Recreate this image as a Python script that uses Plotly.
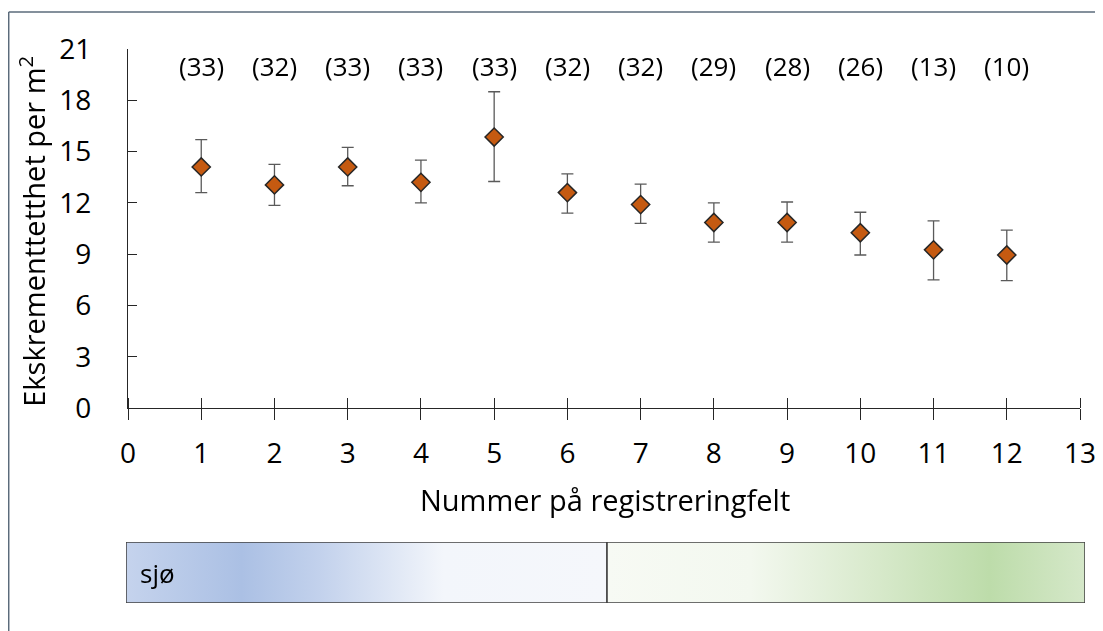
import plotly.graph_objects as go

# feltnummer, gjennomsnitt, feilgrenser og antall (n)
felt = [1, 2, 3, 4, 5, 6, 7, 8, 9, 10, 11, 12]
tetthet = [14.1, 13.05, 14.1, 13.2, 15.85, 12.6, 11.9, 10.85, 10.85, 10.25, 9.25, 8.95]
feil_opp = [1.6, 1.2, 1.15, 1.3, 2.65, 1.1, 1.2, 1.15, 1.2, 1.2, 1.7, 1.45]
feil_ned = [1.5, 1.2, 1.1, 1.2, 2.6, 1.2, 1.1, 1.15, 1.15, 1.3, 1.75, 1.5]
antall = [33, 32, 33, 33, 33, 32, 32, 29, 28, 26, 13, 10]

y_ticks = [0, 3, 6, 9, 12, 15, 18, 21]
x_ticks = list(range(0, 14))

FONT = "Open Sans"
AXIS = "#262626"
MARKER = "#c55a11"
ERR = "#5a5a5a"
FRAME = "#5b6b7b"

BLUE_SCALE = [[0.0, "#c5d3ed"], [0.24, "#abc0e4"], [0.40, "#c2d1ec"],
              [0.66, "#f3f6fb"], [1.0, "#f5f7fb"]]
GREEN_SCALE = [[0.0, "#f7faf4"], [0.30, "#f3f8ef"], [0.55, "#d9eacd"],
               [0.80, "#bddcaa"], [1.0, "#d5e8c9"]]
SPLIT = 0.5016
X_AXIS_POS = 0.352

fig = go.Figure()

fig.add_trace(go.Scatter(
    x=felt, y=tetthet, mode="markers",
    marker=dict(symbol="diamond", size=14, color=MARKER,
                line=dict(color=AXIS, width=1.5)),
    error_y=dict(type="data", symmetric=False, array=feil_opp, arrayminus=feil_ned,
                 color=ERR, thickness=1.3, width=6),
    xaxis="x", yaxis="y", showlegend=False, hoverinfo="skip",
))

# usynlig spor som gir x3 (tick-merker oppover fra x-aksen)
fig.add_trace(go.Scatter(x=felt, y=tetthet, mode="markers", opacity=0,
                         xaxis="x3", yaxis="y", showlegend=False, hoverinfo="skip"))

# fargestripe sjø -> land
for x0, x1, scale in [(0, SPLIT, BLUE_SCALE), (SPLIT, 1, GREEN_SCALE)]:
    fig.add_trace(go.Scatter(
        x=[x0, x1, x1, x0, x0], y=[0, 0, 1, 1, 0],
        mode="lines", fill="toself",
        fillgradient=dict(type="horizontal", colorscale=scale, start=x0, stop=x1),
        line=dict(color="#404040", width=1.5),
        xaxis="x2", yaxis="y2", showlegend=False, hoverinfo="skip",
    ))

# n over hvert punkt
for x, n in zip(felt, antall):
    fig.add_annotation(x=x, y=20, xref="x", yref="y", text=f"({n})",
                       showarrow=False, font=dict(size=26, color="#000000", family=FONT))

fig.add_annotation(x=0.012, y=0.5, xref="x2", yref="y2", text="sjø", xanchor="left",
                   yanchor="middle", showarrow=False,
                   font=dict(size=26, color="#000000", family=FONT))

fig.add_annotation(x=0.4995, y=0.186, xref="paper", yref="paper",
                   xanchor="center", yanchor="middle",
                   text="Nummer på registreringfelt", showarrow=False,
                   font=dict(size=29, color="#000000", family=FONT))
fig.add_annotation(x=-0.0975, y=0.671, xref="paper", yref="paper", textangle=-90,
                   xanchor="center", yanchor="middle",
                   text="Ekskrementtetthet per m<sup>2</sup>", showarrow=False,
                   font=dict(size=29, color="#000000", family=FONT))

# ramme (topp og venstre)
fig.add_shape(type="line", xref="paper", yref="paper", x0=-0.1223, x1=1.05,
              y0=1.0668, y1=1.0668, line=dict(color=FRAME, width=1.5))
fig.add_shape(type="line", xref="paper", yref="paper", x0=-0.1223, x1=-0.1223,
              y0=1.0668, y1=-0.1, line=dict(color=FRAME, width=1.5))

axis_common = dict(showgrid=False, zeroline=False, linecolor=AXIS, linewidth=1.3,
                   tickcolor=AXIS, tickwidth=1.3, automargin=False,
                   tickfont=dict(size=28, color="#000000", family=FONT))

fig.update_layout(
    width=1095, height=623,
    paper_bgcolor="white", plot_bgcolor="rgba(0,0,0,0)",
    font=dict(family=FONT, color="#000000"),
    margin=dict(l=118, r=18, t=41, b=28, autoexpand=False),
    xaxis=dict(domain=[0.0021, 0.9948], range=[0, 13], tickvals=x_ticks,
               showline=True, ticks="outside", ticklen=11, ticklabelstandoff=9,
               anchor="y", **axis_common),
    xaxis3=dict(domain=[0.0021, 0.9948], range=[0, 13], tickvals=x_ticks,
                overlaying="x", anchor="free", position=X_AXIS_POS, side="top",
                showline=False, ticks="outside", ticklen=10,
                showticklabels=False, showgrid=False, zeroline=False,
                tickcolor=AXIS, tickwidth=1.3, automargin=False),
    yaxis=dict(domain=[X_AXIS_POS, 1], range=[0, 21], tickvals=y_ticks,
               showline=True, ticks="inside", ticklen=9, ticklabelstandoff=30,
               anchor="x", **axis_common),
    xaxis2=dict(domain=[0, 1], range=[0, 1], visible=False, anchor="y2"),
    yaxis2=dict(domain=[0, 0.110], range=[0, 1], visible=False, anchor="x2"),
)

fig.write_html("out.html")
